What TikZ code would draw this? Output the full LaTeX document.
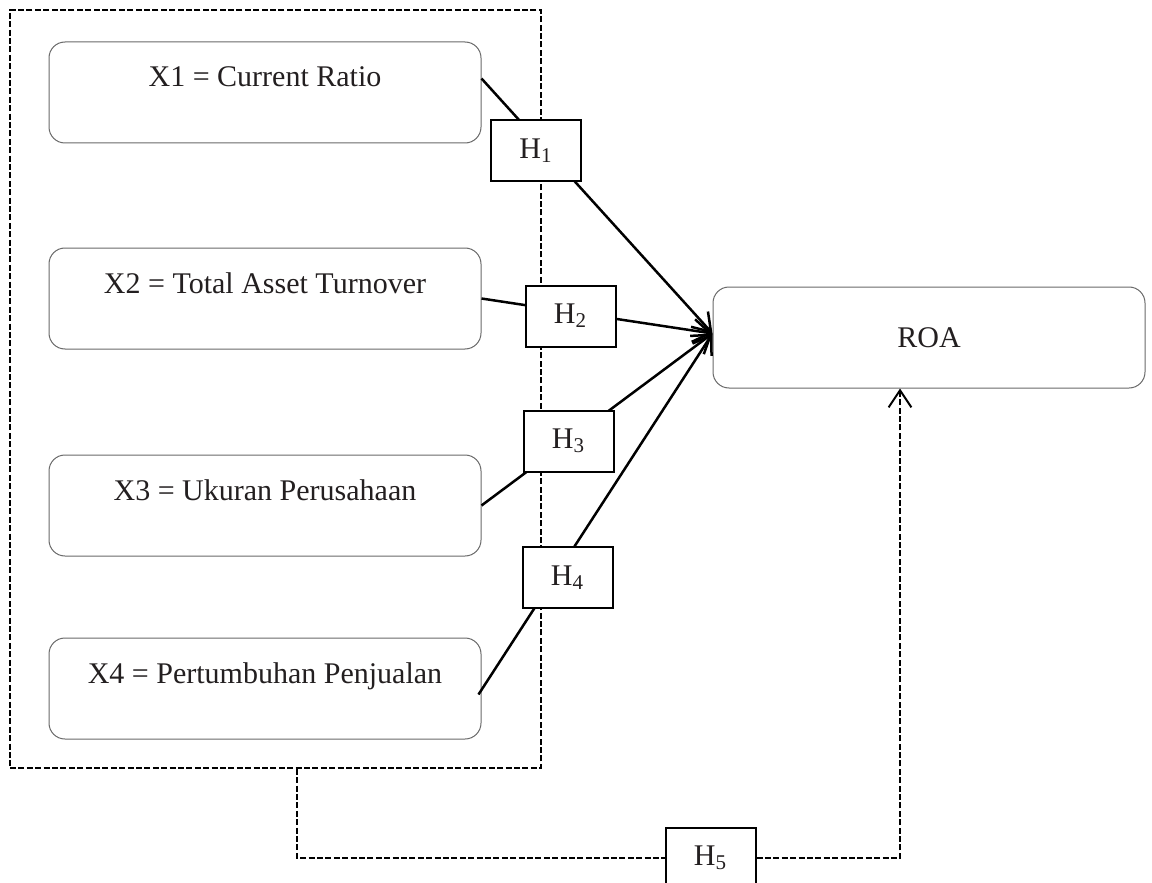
\documentclass[tikz,border=0pt]{standalone}
\usepackage{fontspec}
\setmainfont{Liberation Serif}
\usepackage{tikz}
\usetikzlibrary{arrows.meta,positioning}
\definecolor{inkgray}{RGB}{35, 31, 32}
\definecolor{edgegray}{RGB}{105, 105, 105}
\tikzset{
 boxbase/.style={
 rectangle,
 rounded corners=8pt,
 draw=edgegray,
 line width=0.5pt,
 fill=white,
 minimum width=216pt,
 minimum height=50.5pt,
 text=inkgray,
 font=\fontsize{15}{18}\selectfont
 },
 varbox/.style={
 boxbase,
 inner ysep=0pt,
 text height=22.5pt,
 text depth=28pt
 },
 roabox/.style={boxbase},
 hbox/.style={
 rectangle,
 draw=black,
 line width=1pt,
 fill=white,
 minimum width=45pt,
 minimum height=30.5pt,
 text=inkgray,
 font=\fontsize{15}{18}\selectfont
 },
 groupbox/.style={
 rectangle,
 draw=black,
 line width=0.75pt,
 dash pattern=on 3pt off 1.2pt,
 minimum width=265.5pt,
 minimum height=379pt
 },
 effect/.style={-{Straight Barb[length=3mm,width=4mm]}, line width=1.25pt},
 groupline/.style={dash pattern=on 3pt off 1.2pt, line width=0.75pt}
}

\begin{document}
\begin{tikzpicture}[x=0.5pt, y=-0.5pt]
 \useasboundingbox (0,0) rectangle (1152,883);
 \node[groupbox] (grp) at (275.5,389) {};
 \node[varbox] (x1) at (265,92.5) {X1 = Current Ratio};
 \node[varbox, below=52pt of x1] (x2) {X2 = Total Asset Turnover};
 \node[varbox, below=52.5pt of x2] (x3) {X3 = Ukuran Perusahaan};
 \node[varbox, below=40.5pt of x3] (x4) {X4 = Pertumbuhan Penjualan};
 \node[roabox] (roa) at (929,337.5) {ROA};

 \coordinate (tip) at ([yshift=2pt]roa.west);
 \draw[effect] ([yshift=7pt]x1.east) -- (tip);
 \draw[effect] (x2.east) -- (tip);
 \draw[effect] (x3.east) -- (tip);
 \draw[effect] ([xshift=-1.5pt,yshift=-3pt]x4.east) -- (tip);

 \node[hbox] (h1) at (536,150.5) {H\textsubscript{1}};
 \node[hbox] (h2) at (570.5,316) {H\textsubscript{2}};
 \node[hbox] (h3) at (568.5,441) {H\textsubscript{3}};
 \node[hbox] (h4) at (567.5,577.5) {H\textsubscript{4}};
 \node[hbox] (h5) at (710.5,858) {H\textsubscript{5}};

 \draw[groupline] ([xshift=10.75pt]grp.south) |- (h5.west);
 \draw[groupline, -{Straight Barb[length=3mm,width=4mm,line width=1pt]}] (h5.east) -| ([xshift=-14.5pt]roa.south);
\end{tikzpicture}
\end{document}
